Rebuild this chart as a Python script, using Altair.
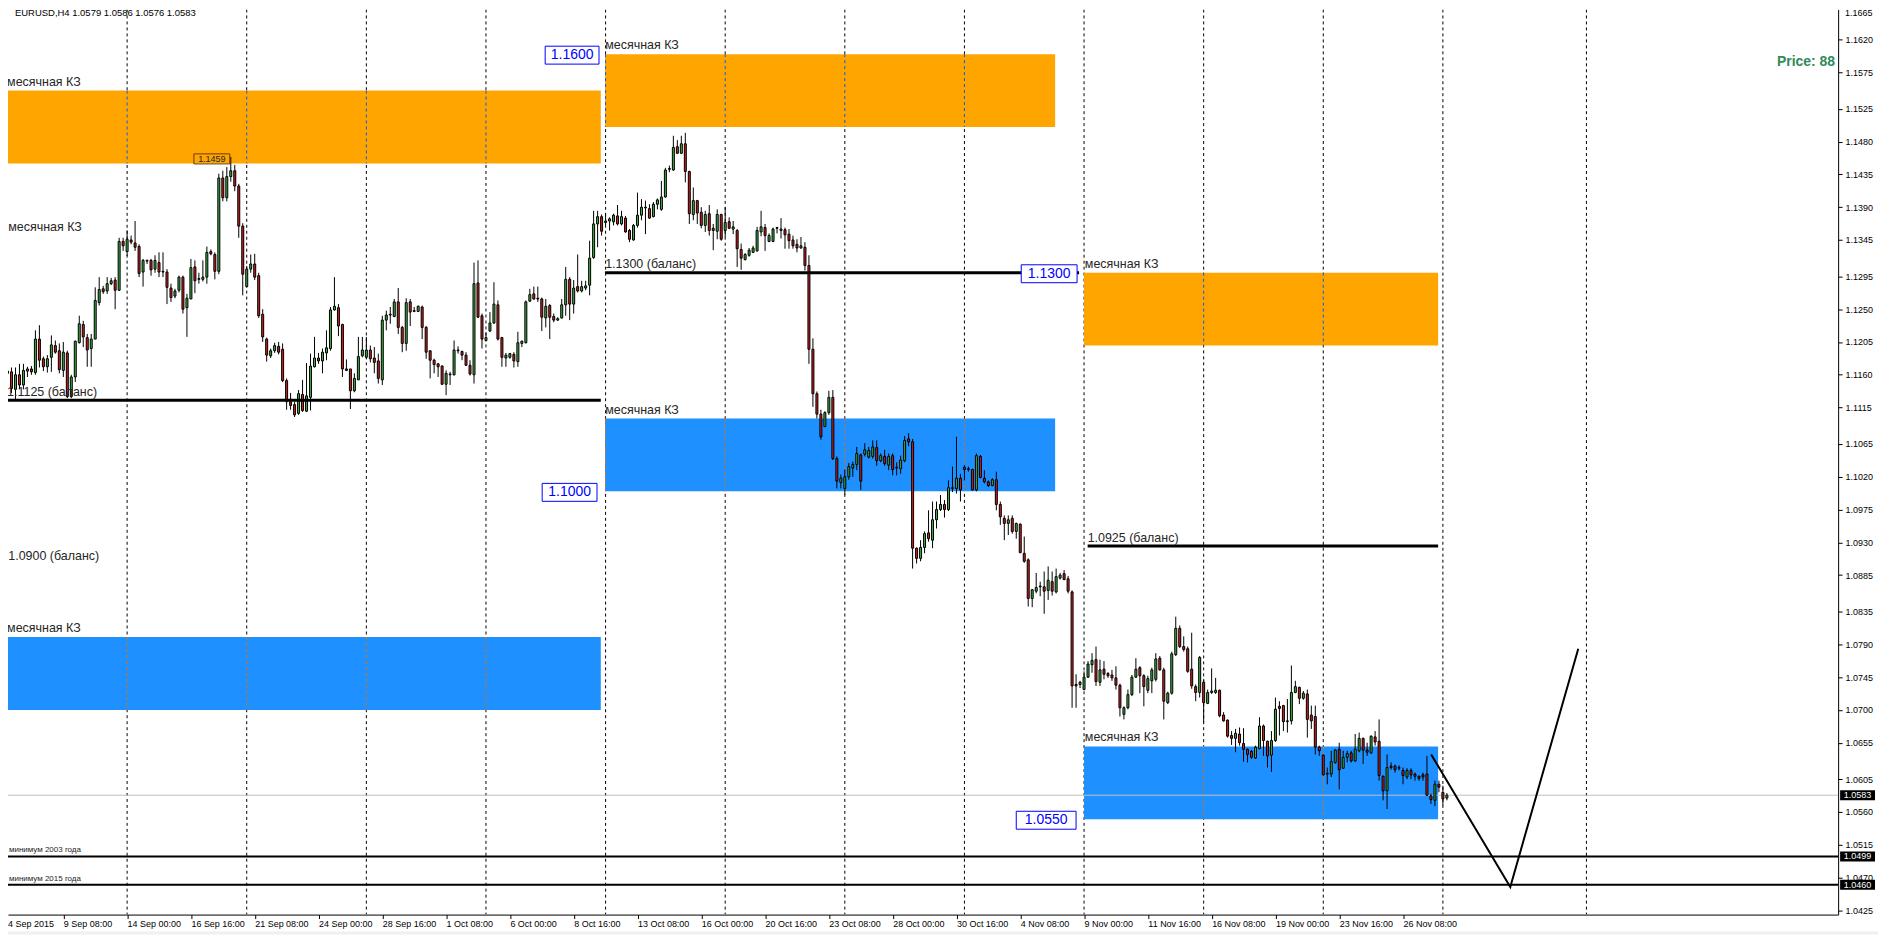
import json
import altair as alt
import pandas as pd

# ---------------- data (prices in 1/10000) ----------------
OPEN = [
11141,11162,11164,11140,11160,11146,11165,11168,11163,11209,
11182,11171,11184,11200,11193,11166,11190,11130,11157,11204,
11229,11211,11196,11209,11259,11278,11275,11285,11290,11276,
11343,11329,11345,11341,11336,11301,11316,11317,11305,11314,
11302,11301,11279,11268,11276,11294,11252,11264,11308,11291,
11291,11294,11329,11325,11302,11430,11403,11432,11440,11419,
11364,11281,11305,11312,11296,11243,11209,11186,11193,11199,
11195,11152,11123,11119,11107,11133,11110,11129,11171,11183,
11179,11190,11196,11249,11252,11229,11168,11168,11138,11153,
11186,11184,11194,11183,11179,11153,11235,11242,11240,11260,
11225,11203,11260,11247,11247,11253,11225,11193,11180,11175,
11172,11147,11160,11160,11194,11192,11187,11173,11160,11286,
11241,11207,11220,11231,11256,11211,11183,11184,11188,11178,
11203,11204,11261,11271,11264,11264,11238,11255,11240,11235,
11238,11256,11291,11257,11281,11275,11279,11283,11321,11367,
11377,11369,11371,11370,11378,11367,11375,11358,11345,11365,
11379,11389,11388,11377,11394,11387,11404,11442,11441,11473,
11464,11477,11439,11380,11399,11383,11365,11381,11361,11357,
11380,11358,11370,11360,11358,11332,11318,11324,11328,11330,
11356,11362,11343,11343,11361,11358,11359,11353,11345,11339,
11334,11335,11310,11195,11134,11106,11089,11108,11129,11045,
11012,11004,11020,11032,11037,11050,11051,11047,11048,11060,
11042,11048,11036,11049,11033,11031,11042,11072,11068,10922,
10908,10923,10943,10933,10961,10975,10982,10975,11004,11004,
11018,11033,11031,11030,11002,11048,11018,11013,11008,11016,
10982,10963,10956,10963,10945,10955,10915,10906,10853,10863,
10869,10869,10864,10876,10862,10881,10887,10880,10862,10735,
10735,10728,10745,10762,10769,10738,10756,10750,10748,10744,
10734,10694,10703,10721,10745,10758,10747,10727,10740,10742,
10771,10755,10710,10723,10776,10812,10787,10784,10756,10732,
10724,10738,10709,10724,10724,10727,10693,10686,10665,10661,
10667,10654,10646,10643,10634,10647,10678,10657,10638,10658,
10705,10706,10684,10685,10724,10731,10716,10722,10693,10691,
10649,10638,10613,10612,10628,10646,10620,10635,10641,10630,
10644,10661,10645,10641,10663,10657,10609,10589,10623,10623,
10620,10617,10608,10617,10612,10609,10611,10612,10582,10576,
10598,10587,10579]

HIGH = [
11155,11175,11170,11170,11175,11175,11171,11172,11221,11228,
11185,11187,11214,11207,11203,11205,11193,11160,11207,11241,
11234,11216,11216,11280,11294,11282,11294,11293,11294,11348,
11348,11358,11351,11371,11339,11319,11318,11319,11324,11328,
11328,11305,11285,11278,11296,11296,11271,11319,11317,11300,
11317,11336,11332,11328,11436,11440,11445,11459,11448,11422,
11368,11309,11325,11326,11300,11250,11211,11196,11204,11205,
11203,11155,11135,11123,11139,11153,11176,11189,11212,11190,
11196,11221,11253,11294,11257,11230,11181,11168,11162,11212,
11212,11212,11200,11198,11189,11241,11248,11253,11264,11279,
11227,11265,11264,11253,11255,11255,11227,11193,11182,11176,
11173,11166,11164,11207,11199,11193,11191,11180,11314,11317,
11244,11218,11246,11287,11262,11212,11190,11190,11191,11219,
11207,11262,11278,11281,11281,11266,11264,11257,11244,11239,
11264,11308,11294,11290,11325,11289,11289,11344,11385,11385,
11380,11381,11376,11381,11393,11385,11378,11360,11367,11410,
11401,11399,11394,11397,11402,11426,11444,11447,11488,11482,
11488,11492,11440,11417,11400,11390,11385,11393,11367,11387,
11381,11390,11376,11371,11360,11340,11327,11334,11337,11363,
11385,11367,11354,11362,11363,11375,11362,11360,11351,11346,
11349,11342,11324,11210,11137,11112,11110,11138,11139,11048,
11023,11030,11039,11041,11061,11052,11066,11061,11070,11070,
11052,11057,11052,11052,11040,11049,11076,11080,11072,10923,
10933,10945,10974,10986,10986,10995,10988,11015,11034,11075,
11024,11036,11034,11031,11052,11050,11029,11015,11018,11027,
10986,10967,10967,10967,10957,10956,10938,10908,10866,10888,
10876,10890,10897,10890,10894,10888,10892,10884,10864,10749,
10740,10753,10767,10778,10787,10769,10767,10752,10755,10760,
10736,10705,10728,10748,10771,10760,10749,10747,10758,10778,
10774,10758,10725,10780,10828,10816,10801,10787,10806,10735,
10774,10742,10728,10757,10744,10728,10697,10687,10671,10674,
10676,10675,10647,10645,10651,10690,10680,10658,10671,10717,
10712,10707,10715,10761,10740,10732,10726,10728,10706,10706,
10651,10639,10621,10644,10646,10655,10644,10644,10644,10667,
10669,10662,10655,10665,10671,10687,10610,10639,10628,10625,
10624,10621,10620,10620,10614,10610,10614,10637,10585,10603,
10603,10596,10586]

LOW = [
11130,11125,11135,11125,11140,11140,11157,11160,11160,11170,
11165,11163,11164,11189,11162,11157,11128,11128,11150,11203,
11198,11171,11171,11209,11255,11271,11271,11283,11250,11275,
11330,11323,11339,11330,11294,11281,11312,11296,11300,11294,
11294,11257,11260,11265,11273,11244,11212,11264,11272,11285,
11288,11285,11324,11291,11298,11398,11398,11425,11412,11348,
11269,11280,11300,11290,11238,11205,11178,11183,11190,11188,
11150,11112,11112,11102,11105,11109,11109,11111,11170,11175,
11162,11180,11193,11248,11213,11157,11165,11113,11136,11153,
11184,11182,11177,11162,11148,11146,11221,11230,11239,11216,
11191,11193,11227,11246,11246,11209,11182,11155,11162,11157,
11146,11132,11146,11159,11189,11180,11172,11159,11148,11238,
11196,11206,11219,11230,11207,11171,11171,11182,11170,11171,
11198,11203,11260,11263,11260,11220,11225,11209,11232,11234,
11237,11241,11235,11244,11273,11273,11276,11269,11319,11335,
11351,11365,11358,11365,11365,11365,11355,11342,11344,11362,
11372,11353,11374,11376,11387,11385,11403,11438,11440,11463,
11463,11424,11367,11372,11367,11361,11356,11351,11331,11346,
11344,11349,11360,11353,11308,11304,11317,11322,11327,11329,
11350,11330,11342,11342,11354,11347,11333,11333,11333,11328,
11333,11303,11175,11116,11100,11071,11088,11105,11043,11004,
11004,10995,11016,11020,11029,11002,11048,11045,11045,11035,
11040,11035,11029,11022,11022,11024,11040,11062,10894,10901,
10904,10915,10931,10922,10949,10973,10964,10973,10999,10997,
10986,11015,11027,11001,11000,11018,11011,11006,11007,10974,
10954,10933,10940,10942,10935,10915,10902,10842,10841,10860,
10856,10832,10851,10857,10860,10879,10878,10860,10703,10703,
10730,10727,10744,10751,10733,10733,10742,10744,10740,10728,
10691,10687,10701,10719,10744,10723,10705,10723,10723,10739,
10754,10687,10708,10721,10774,10785,10780,10751,10729,10712,
10717,10683,10708,10722,10722,10690,10684,10662,10652,10642,
10651,10629,10628,10633,10633,10646,10637,10621,10615,10656,
10665,10671,10669,10680,10723,10708,10714,10662,10674,10639,
10637,10610,10598,10608,10626,10591,10619,10628,10628,10629,
10642,10626,10637,10640,10651,10603,10576,10564,10618,10614,
10617,10598,10605,10605,10603,10603,10603,10582,10571,10568,
10587,10569,10576]

CLOSE = [
11150,11165,11141,11160,11146,11166,11168,11164,11209,11180,
11171,11182,11201,11191,11167,11191,11130,11157,11206,11230,
11212,11194,11209,11262,11277,11274,11285,11289,11276,11343,
11337,11346,11342,11335,11299,11317,11317,11304,11317,11301,
11301,11280,11266,11275,11294,11250,11265,11307,11289,11292,
11294,11328,11326,11302,11430,11403,11432,11440,11419,11364,
11298,11305,11312,11294,11241,11212,11187,11193,11200,11191,
11152,11123,11118,11105,11134,11111,11131,11172,11183,11179,
11191,11197,11249,11254,11227,11168,11166,11138,11155,11185,
11194,11194,11182,11177,11155,11235,11242,11243,11260,11225,
11203,11259,11246,11248,11254,11225,11191,11180,11174,11171,
11147,11162,11161,11194,11193,11187,11173,11161,11285,11239,
11209,11211,11231,11257,11209,11184,11187,11189,11179,11204,
11206,11260,11270,11264,11265,11239,11254,11239,11235,11237,
11256,11291,11257,11279,11275,11281,11282,11320,11367,11377,
11357,11371,11374,11379,11367,11377,11356,11346,11365,11379,
11390,11390,11375,11394,11400,11404,11441,11443,11472,11464,
11477,11439,11381,11399,11382,11365,11380,11358,11358,11380,
11346,11369,11361,11363,11333,11320,11325,11331,11334,11358,
11363,11351,11351,11360,11362,11360,11352,11344,11337,11334,
11337,11310,11195,11134,11106,11075,11108,11129,11045,11014,
11018,11020,11034,11037,11052,11014,11057,11056,11061,11042,
11049,11038,11048,11030,11032,11043,11070,11068,10922,10908,
10923,10942,10935,10961,10975,10982,10975,11005,11005,11018,
11002,11030,11030,11002,11049,11019,11013,11008,11016,10982,
10965,10956,10961,10945,10956,10916,10904,10853,10865,10868,
10870,10863,10878,10863,10883,10885,10879,10863,10733,10733,
10738,10745,10763,10768,10739,10755,10749,10747,10744,10734,
10703,10703,10721,10745,10756,10747,10732,10743,10755,10770,
10755,10712,10723,10777,10812,10787,10783,10753,10733,10724,
10772,10710,10724,10726,10727,10692,10685,10664,10661,10668,
10655,10646,10639,10635,10649,10678,10658,10637,10658,10701,
10702,10684,10685,10724,10732,10716,10723,10687,10685,10649,
10644,10611,10612,10629,10645,10618,10635,10640,10630,10646,
10661,10645,10642,10664,10656,10610,10589,10621,10621,10618,
10621,10610,10617,10611,10609,10606,10608,10583,10577,10598,
10594,10578,10583]

TICK_BARS = list(range(15, 352, 16))
TICK_LABELS = ["9 Sep 08:00", "14 Sep 00:00", "16 Sep 16:00", "21 Sep 08:00",
               "24 Sep 00:00", "28 Sep 16:00", "1 Oct 08:00", "6 Oct 00:00",
               "8 Oct 16:00", "13 Oct 08:00", "16 Oct 00:00", "20 Oct 16:00",
               "23 Oct 08:00", "28 Oct 00:00", "30 Oct 16:00", "4 Nov 08:00",
               "9 Nov 00:00", "11 Nov 16:00", "16 Nov 08:00", "19 Nov 00:00",
               "23 Nov 16:00", "26 Nov 08:00"]
FIRST_LABEL = "4 Sep 2015"
TOP_PRICE_LABEL = "1.1665"
PRICE_TICKS = [1.1665, 1.1620, 1.1575, 1.1525, 1.1480, 1.1435, 1.1390, 1.1345,
               1.1295, 1.1250, 1.1205, 1.1160, 1.1115, 1.1065, 1.1020, 1.0975,
               1.0930, 1.0885, 1.0835, 1.0790, 1.0745, 1.0700, 1.0655, 1.0605,
               1.0560, 1.0515, 1.0470, 1.0425]
GRID_BARS = [1, 31, 61, 91, 121, 151, 181, 211, 241, 271, 301, 331, 361, 397]

ZONE_KIND = ["sell", "sell", "sell", "sell", "buy", "buy", "buy"]
ZONE_X1 = [1.0, 150.85, 271.0, -60.0, 150.85, 1.0, 271.0]
ZONE_X2 = [149.8, 263.75, 359.8, 0.0, 263.75, 149.8, 359.8]
ZONE_TOP = [1.1550, 1.1600, 1.1300, 1.1350, 1.1100, 1.0800, 1.0650]
ZONE_BOT = [1.1450, 1.1500, 1.1200, 1.1250, 1.1000, 1.0700, 1.0550]
ZONE_TEXT = "месячная КЗ"
ZONE_TEXT_X = [0.9, 150.9, 271.2, 1.2, 150.9, 0.9, 271.2]

BAL_PRICE = [1.1125, 1.1300, 1.0925, 1.0900]
BAL_X1 = [-60.0, 150.85, 271.9, -60.0]
BAL_X2 = [149.8, 269.75, 359.8, -0.2]
BAL_TEXT = ["1.1125 (баланс)", "1.1300 (баланс)", "1.0925 (баланс)", "1.0900 (баланс)"]
BAL_TEXT_X = [0.9, 150.9, 271.9, 1.2]

MIN_PRICE = [1.0499, 1.0460]
MIN_TEXT = ["минимум 2003 года", "минимум 2015 года"]

ZIG_X = [358.05, 377.9, 394.95]
ZIG_P = [1.0639, 1.0457, 1.0784]

PL_PRICE = [1.1600, 1.1300, 1.1000, 1.0550]
PL_ANCHOR = [150.85, 271.0, 150.85, 271.0]

LAST_PRICE = 1.0583
TAG_PRICES = [1.0583, 1.0499, 1.0460]
HIGH_MARK = 1.1459
HIGH_BAR = 57
HEADER = "EURUSD,H4  1.0579 1.0586 1.0576 1.0583"
PRICE_NOTE = "Price: 88"

# ---------------- styling ----------------
W, H = 1836, 908
X_DOMAIN = [1.125, 460.125]
Y_DOMAIN = [1.041917, 1.166131]
ZONE_FILL = {"sell": "#FFA500", "buy": "#1E90FF"}
ZONE_GRID = {"sell": "#005AFF", "buy": "#E16F00"}
CANDLE_FILL = {"up": "#3CB043", "down": "#D01F1F"}
FONT = "Liberation Sans"
TXT = "#262626"

xs = alt.Scale(domain=X_DOMAIN, nice=False, zero=False)
ys = alt.Scale(domain=Y_DOMAIN, nice=False, zero=False)

label_expr = json.dumps(TICK_LABELS) + "[round((datum.value - 15) / 16)]"
x_axis = alt.Axis(values=TICK_BARS, labelExpr=label_expr, orient="bottom", title=None,
                  domainColor="black", tickColor="black", tickSize=4, labelAlign="left",
                  labelBaseline="top", labelPadding=1, labelFont=FONT, labelFontSize=9,
                  labelColor="black", labelOverlap=False, labelFlush=False, labelBound=False,
                  grid=False)
y_axis = alt.Axis(values=PRICE_TICKS, format=".4f", orient="right", title=None,
                  domainColor="black", tickColor="black", tickSize=4, labelPadding=3,
                  labelFont=FONT, labelFontSize=9, labelColor="black", labelOverlap=False,
                  labelFlush=False, labelBound=False, grid=False)


def X(field):
    return alt.X(field, scale=xs, axis=x_axis)


def Y(field):
    return alt.Y(field, scale=ys, axis=y_axis)


n = len(OPEN)
bars = pd.DataFrame({
    "i": list(range(n)),
    "o": [v / 10000 for v in OPEN],
    "h": [v / 10000 for v in HIGH],
    "l": [v / 10000 for v in LOW],
    "c": [v / 10000 for v in CLOSE],
})
bars["lo"] = bars[["o", "h", "l", "c"]].min(axis=1)
bars["hi"] = bars[["o", "h", "l", "c"]].max(axis=1)
bars["x1"] = bars["i"] - 0.25
bars["x2"] = bars["i"] + 0.25
bars["fill"] = [CANDLE_FILL["up"] if c >= o else CANDLE_FILL["down"] for o, c in zip(bars["o"], bars["c"])]

zones = pd.DataFrame({"kind": ZONE_KIND, "x1": ZONE_X1, "x2": ZONE_X2,
                      "top": ZONE_TOP, "bot": ZONE_BOT, "tx": ZONE_TEXT_X,
                      "label": [ZONE_TEXT] * len(ZONE_KIND)})
zones["fill"] = [ZONE_FILL[k] for k in ZONE_KIND]
zgrid = pd.DataFrame([
    {"g": g, "top": t, "bot": b, "fill": ZONE_GRID[k]}
    for k, a, z, t, b in zip(ZONE_KIND, ZONE_X1, ZONE_X2, ZONE_TOP, ZONE_BOT)
    for g in GRID_BARS if a < g < z
])
bal = pd.DataFrame({"p": BAL_PRICE, "x1": BAL_X1, "x2": BAL_X2, "t": BAL_TEXT, "tx": BAL_TEXT_X})
mins = pd.DataFrame({"p": MIN_PRICE, "t": MIN_TEXT})
zig = pd.DataFrame({"x": ZIG_X, "p": ZIG_P, "k": list(range(len(ZIG_X)))})
grid = pd.DataFrame({"g": GRID_BARS})

grid_layer = alt.Chart(grid).mark_rule(color="black", strokeWidth=1, strokeDash=[3, 3], clip=True).encode(
    x=X("g:Q"), y=alt.value(0), y2=alt.value(H))

zone_layer = alt.Chart(zones).mark_rect(clip=True).encode(
    x=X("x1:Q"), x2="x2:Q", y=Y("top:Q"), y2="bot:Q",
    color=alt.Color("fill:N", scale=None))

zgrid_layer = alt.Chart(zgrid).mark_rule(strokeWidth=1, strokeDash=[3, 3], clip=True).encode(
    x=X("g:Q"), y=Y("top:Q"), y2="bot:Q", color=alt.Color("fill:N", scale=None))

last_line = alt.Chart(pd.DataFrame({"p": [LAST_PRICE]})).mark_rule(color="#C0C0C0", strokeWidth=1).encode(
    x=alt.value(0), x2=alt.value(W), y=Y("p:Q"))

wick_layer = alt.Chart(bars).mark_rule(color="black", strokeWidth=1, clip=True).encode(
    x=X("i:Q"), y=Y("lo:Q"), y2="hi:Q")

body_layer = alt.Chart(bars).mark_rect(stroke="black", strokeWidth=1, clip=True).encode(
    x=X("x1:Q"), x2="x2:Q", y=Y("o:Q"), y2="c:Q",
    fill=alt.Fill("fill:N", scale=None))

bal_layer = alt.Chart(bal).mark_rule(color="black", strokeWidth=3, clip=True).encode(
    x=X("x1:Q"), x2="x2:Q", y=Y("p:Q"))

min_layer = alt.Chart(mins).mark_rule(color="black", strokeWidth=2).encode(
    x=alt.value(0), x2=alt.value(W), y=Y("p:Q"))

zig_layer = alt.Chart(zig).mark_line(color="black", strokeWidth=2, clip=True).encode(
    x=X("x:Q"), y=Y("p:Q"), order="k:Q")

zone_text = alt.Chart(zones).mark_text(align="left", baseline="middle", dy=-9, font=FONT,
                                       fontSize=12.5, color=TXT).encode(
    x=X("tx:Q"), y=Y("top:Q"), text="label:N")

bal_text = alt.Chart(bal).mark_text(align="left", baseline="middle", dy=-8.5, font=FONT,
                                    fontSize=12.5, color=TXT).encode(
    x=X("tx:Q"), y=Y("p:Q"), text="t:N")

min_text = alt.Chart(mins).mark_text(align="left", baseline="middle", dy=-6, font=FONT,
                                     fontSize=8, color=TXT).encode(
    x=alt.value(1), y=Y("p:Q"), text="t:N")

# light grey window strip under the time scale
strip = alt.Chart(pd.DataFrame({"k": [0]})).mark_rect(color="#F0F0F0").encode(
    x=alt.value(-8), x2=alt.value(W + 40), y=alt.value(H + 17), y2=alt.value(H + 20))

layers = [grid_layer, zone_layer, zgrid_layer, last_line, wick_layer, body_layer,
          bal_layer, min_layer, zig_layer, zone_text, bal_text, min_text, strip]

# blue price labels
PL_OFF = [-33, -35, -35.5, -38]
PL_W = [54, 56, 55, 60]
for p, a, off, w in zip(PL_PRICE, PL_ANCHOR, PL_OFF, PL_W):
    d = pd.DataFrame({"x": [a], "p": [p], "t": [f"{p:.4f}"]})
    hh = 18 / w
    shape = f"M-1,-{hh:.3f}L1,-{hh:.3f}L1,{hh:.3f}L-1,{hh:.3f}Z"
    layers.append(alt.Chart(d).mark_point(shape=shape, size=w * w, filled=True, fill="white",
                                          stroke="#0000FF", strokeWidth=1, opacity=1,
                                          xOffset=off, yOffset=1).encode(
        x=X("x:Q"), y=Y("p:Q")))
    layers.append(alt.Chart(d).mark_text(font=FONT, fontSize=14, color="#0000FF", align="center",
                                         baseline="middle", dx=off, dy=1).encode(
        x=X("x:Q"), y=Y("p:Q"), text="t:N"))

# right-side price tags
tags = pd.DataFrame({"p": TAG_PRICES, "t": [f"{v:.4f}" for v in TAG_PRICES]})
tw = 35
th = 10 / tw
tag_shape = f"M-1,-{th:.3f}L1,-{th:.3f}L1,{th:.3f}L-1,{th:.3f}Z"
layers.append(alt.Chart(tags).mark_point(shape=tag_shape, size=tw * tw, filled=True, color="black",
                                         opacity=1).encode(
    x=alt.value(W + 19.5), y=Y("p:Q")))
layers.append(alt.Chart(tags).mark_text(font=FONT, fontSize=9, color="white", align="center",
                                        baseline="middle").encode(
    x=alt.value(W + 19.5), y=Y("p:Q"), text="t:N"))

# high marker 1.1459
hm = pd.DataFrame({"x": [HIGH_BAR], "p": [HIGH_MARK], "t": [f"{HIGH_MARK:.4f}"]})
layers.append(alt.Chart(hm).mark_point(shape="M-1,-0.28L1,-0.28L1,0.28L-1,0.28Z", size=36 * 36,
                                       filled=False, stroke="#6B3A00", strokeWidth=1, opacity=1,
                                       xOffset=-19, yOffset=2).encode(
    x=X("x:Q"), y=Y("p:Q")))
layers.append(alt.Chart(hm).mark_text(font=FONT, fontSize=9, color=TXT, align="center",
                                      baseline="middle", dx=-19, dy=2).encode(
    x=X("x:Q"), y=Y("p:Q"), text="t:N"))

# header, price note, first date label, top price label
layers.append(alt.Chart(pd.DataFrame({"t": [HEADER]})).mark_text(
    font=FONT, fontSize=9.5, color="black", align="left", baseline="middle").encode(
    x=alt.value(7), y=alt.value(4), text="t:N"))
layers.append(alt.Chart(pd.DataFrame({"t": [PRICE_NOTE]})).mark_text(
    font=FONT, fontSize=14, fontWeight="bold", color="#2E8B57", align="right", baseline="middle").encode(
    x=alt.value(W - 3), y=alt.value(53), text="t:N"))
layers.append(alt.Chart(pd.DataFrame({"t": [FIRST_LABEL]})).mark_text(
    font=FONT, fontSize=9, color="black", align="left", baseline="top").encode(
    x=alt.value(0), y=alt.value(H + 5), text="t:N"))
layers.append(alt.Chart(pd.DataFrame({"t": [TOP_PRICE_LABEL]})).mark_text(
    font=FONT, fontSize=9, color="black", align="left", baseline="middle").encode(
    x=alt.value(W + 7), y=alt.value(4), text="t:N"))

chart = alt.layer(*layers).properties(
    width=W, height=H,
    padding={"left": 0, "top": 0, "right": 40, "bottom": 20},
    autosize=alt.AutoSizeParams(type="none"),
    background="white",
).configure_view(stroke=None)

chart.save("out.html", embed_options={"renderer": "svg", "actions": False})
